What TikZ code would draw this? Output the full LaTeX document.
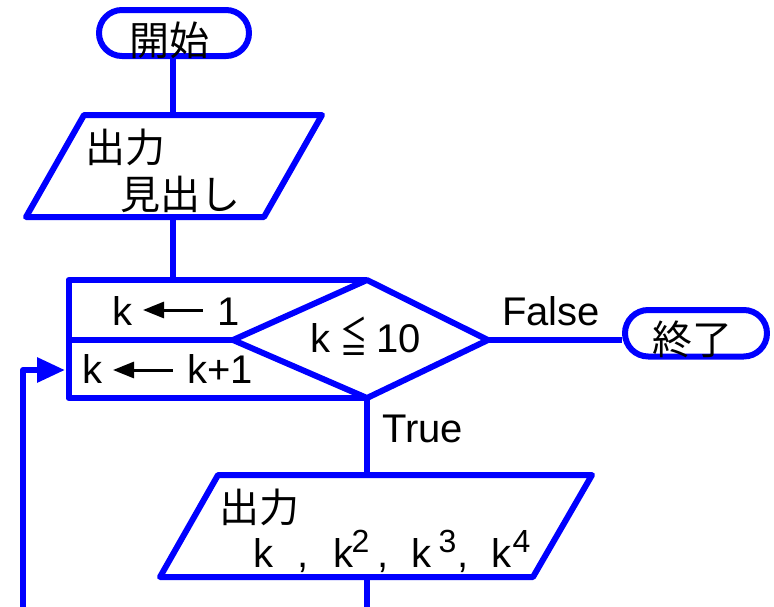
\documentclass[tikz,border=0pt]{standalone}
\usepackage{fontspec}
\setmainfont{Liberation Sans}
\newfontfamily\jpfont{Noto Sans CJK JP}
\usetikzlibrary{arrows.meta,shapes.misc}
\definecolor{fcblue}{RGB}{0,0,255}
\newcommand\putat[2]{\makebox[0pt][l]{\hspace*{#1}#2}}
\begin{document}
\begin{tikzpicture}[x=1pt,y=-1pt,
  flow/.style={draw=fcblue, line width=6pt, line join=round},
  term/.style={flow, rounded rectangle, inner sep=0pt},
  txt/.style={inner sep=0pt, anchor=base west, font=\fontsize{40}{42}\selectfont},
  jtxt/.style={inner sep=0pt, anchor=center, font=\fontsize{40}{42}\selectfont\jpfont},
  tarrow/.style={line width=3pt, {Triangle[length=21pt,width=16pt]}-},
  looparrow/.style={flow, -{Triangle[length=28pt,width=24pt]}}
]
\useasboundingbox (0,0) rectangle (774,606);

% terminals
\node[term, minimum width=150pt, minimum height=46pt] (start) at (174,33) {};
\node[jtxt] (starttxt) at (169,40) {開始};
\node[term, minimum width=142pt, minimum height=46.5pt] (end) at (696,333.25) {};
\node[jtxt] (endtxt) at (692,339) {終了};

% output 1
\coordinate (p1top) at (173,115);
\coordinate (p1bot) at (173,217);
\draw[flow] (84,115) -- (322,115) -- (264,217) -- (26,217) -- cycle;
\node[jtxt] (p1a) at (125,147) {出力};
\node[jtxt] (p1b) at (180,194) {見出し};

% loop box and decision
\coordinate (rtop) at (173,280);
\coordinate (dtop) at (367,280);
\coordinate (dleft) at (233,340);
\coordinate (dright) at (488,340);
\coordinate (dbot) at (367,398);
\coordinate (loopin) at (65,370);
\draw[flow] (dtop) -- (68.5,280) -- (68.5,398) -- (dbot);
\draw[flow] (68.5,340) -- (dleft);
\draw[flow] (dtop) -- (dright) -- (dbot) -- (dleft) -- cycle;

\node[txt] (ka) at (112.3,325) {k};
\draw[tarrow] (143,310) -- (203,310);
\node[txt] (one) at (217.6,325) {1};
\node[txt] (kb) at (82.4,383) {k};
\draw[tarrow] (113,370) -- (173,370);
\node[txt] (kp) at (187.4,383) {k+1};
\node[txt] (cond) at (309.3,352) {\putat{0pt}{k}\putat{30pt}{\raisebox{-1pt}{\scalebox{0.68}[1.08]{\jpfont ≦}}}\putat{66.3pt}{10}};

% output 2
\coordinate (p2top) at (367,475);
\coordinate (p2bot) at (367,577);
\coordinate (exit) at (367,612);
\draw[flow] (218,475) -- (592,475) -- (533,577) -- (160,577) -- cycle;
\node[jtxt] (p2a) at (259,507) {出力};
\node[txt] (p2b) at (252.4,567) {\putat{0pt}{k}\putat{44.2pt}{,}\putat{80pt}{k}%
  \putat{98.6pt}{\raisebox{15pt}{\fontsize{32}{34}\selectfont 2}}\putat{124.2pt}{,}%
  \putat{158pt}{k}\putat{185.6pt}{\raisebox{15pt}{\fontsize{32}{34}\selectfont 3}}\putat{204.5pt}{,}%
  \putat{238pt}{k}\putat{259.6pt}{\raisebox{15pt}{\fontsize{32}{34}\selectfont 4}}};

% connectors
\draw[flow] (start.south -| p1top) -- (p1top);
\draw[flow] (p1bot) -- (rtop);
\draw[flow] (dright) -- (dright -| end.west);
\node[txt] (false) at (501.9,325) {False};
\draw[flow] (dbot) -- (p2top);
\node[txt] (true) at (382.1,442) {True};
\draw[flow] (p2bot) -- (exit);
\coordinate (loopstart) at (23,612);
\draw[looparrow] (loopstart) |- (loopin);
\end{tikzpicture}
\end{document}
